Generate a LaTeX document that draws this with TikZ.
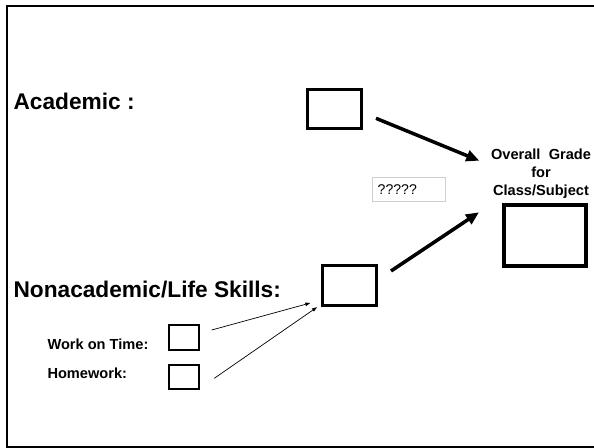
\documentclass[tikz,border=0pt]{standalone}
\usepackage{fontspec}
\setmainfont{Liberation Sans}
\usetikzlibrary{arrows.meta}
\definecolor{faintgray}{HTML}{CFCFCF}
\tikzset{
  x=1pt, y=-1pt,
  heading/.style={font=\bfseries\fontsize{22.7}{27}\selectfont, inner sep=0pt, anchor=base west},
  sublabel/.style={font=\bfseries\fontsize{14.6}{18}\selectfont, inner sep=0pt, anchor=base west},
  scorebox/.style={draw, line width=3pt, minimum width=54pt, minimum height=39.5pt, inner sep=0pt},
  smallbox/.style={draw, line width=2pt, minimum width=29.3pt, minimum height=24.8pt, inner sep=0pt},
  gradebox/.style={draw, line width=4.3pt, minimum width=82pt, minimum height=60.7pt, inner sep=0pt},
  bigarrow/.style={line width=3.5pt, -{Triangle[length=13pt,width=11pt]}},
  thinarrow/.style={line width=0.7pt, -{Triangle[length=5pt,width=3.5pt]}},
}
\begin{document}
\begin{tikzpicture}
\useasboundingbox (0,0) rectangle (594,447);

% outer frame, running off the right and bottom edges
\begin{scope}
  \clip (0,0) rectangle (594,447);
  \draw[line width=2pt] (7.3,6.3) rectangle (600,447.2);
\end{scope}

% row labels
\node[heading] (acadlabel) at (13.3,109) {Academic :};
\node[heading] (nonlabel) at (13.3,297) {Nonacademic/Life Skills:};
\node[sublabel] (worklabel) at (47.3,349) {Work on Time:};
\node[sublabel] (hwlabel) at (47.3,378) {Homework:};

% score boxes
\node[scorebox] (acad) at (334.25,108.75) {};
\node[scorebox] (nonacad) at (349.5,285.25) {};
\node[smallbox] (work) at (184.1,337.5) {};
\node[smallbox] (hw) at (184.1,377) {};
\node[gradebox] (grade) at (544.9,235.5) {};

% title over the grade box
\node[font=\bfseries\fontsize{14.6}{18}\selectfont, align=center, inner sep=0pt, anchor=north]
  (gradetitle) at (541,149) {Overall\hspace{4.2pt} Grade\\for\\Class/Subject};

% open question
\node[draw=faintgray, line width=0.8pt, font=\fontsize{14.1}{17}\selectfont,
      text width=62.1pt, align=left, inner xsep=5.6pt, inner ysep=0pt,
      minimum height=24.4pt, anchor=west] (question) at (371.7,189.5) {?????};

% arrow end points
\coordinate (acadout) at (376,118.3);
\coordinate (gradein1) at (479.3,160.7);
\coordinate (nonout) at (391,271);
\coordinate (gradein2) at (479,212.3);
\coordinate (workout) at (211.7,330);
\coordinate (nonin1) at (310.3,303);
\coordinate (hwout) at (214.3,378.3);
\coordinate (nonin2) at (317,307.2);

\draw[bigarrow] (acadout) -- (gradein1);
\draw[bigarrow] (nonout) -- (gradein2);
\draw[thinarrow] (workout) -- (nonin1);
\draw[thinarrow] (hwout) -- (nonin2);
\end{tikzpicture}
\end{document}
